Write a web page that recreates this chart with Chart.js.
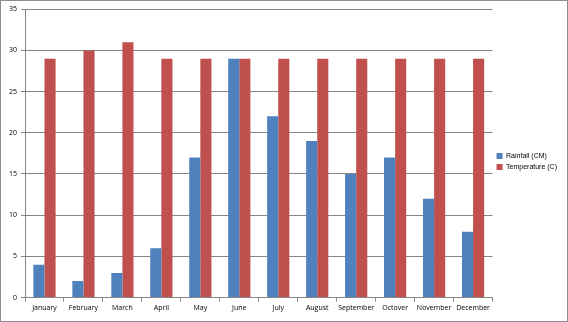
<!DOCTYPE html>
<html>
<head>
<meta charset="utf-8">
<script src="https://cdn.jsdelivr.net/npm/chart.js@4"></script>
<style>
  html, body { margin: 0; padding: 0; background: #fff; }
  #wrap { width: 568px; height: 322px; box-sizing: border-box; border: 1px solid #8e8e8e; }
  canvas { display: block; }
</style>
</head>
<body>
<div id="wrap"><canvas id="graph1" width="566" height="320"></canvas></div>
<script>
const months = ['January', 'February', 'March', 'April', 'May', 'June', 'July', 'August', 'September', 'Octover', 'November', 'December'];
const rainfall = [4, 2, 3, 6, 17, 29, 22, 19, 15, 17, 12, 8];
const temperature = [29, 30, 31, 29, 29, 29, 29, 29, 29, 29, 29, 29];

const data1 = {
    labels: months,
    datasets: [{
        label: 'Rainfall (CM)',
        data: rainfall,
        backgroundColor: '#4F81BD'
    }, {
        label: 'Temperature (C)',
        data: temperature,
        backgroundColor: '#C0504D'
    }]
};

const config = {
    type: 'bar',
    data: data1,
    options: {
        responsive: false,
        animation: false,
        layout: { padding: { left: 4, right: 0, top: 8, bottom: 7 } },
        datasets: { bar: { categoryPercentage: 0.57, barPercentage: 1 } },
        plugins: {
            tooltip: { enabled: false },
            legend: {
                position: 'right',
                labels: {
                    boxWidth: 6,
                    boxHeight: 6,
                    padding: 4,
                    color: '#000',
                    font: { family: 'Liberation Sans', size: 7 }
                }
            }
        },
        scales: {
            x: {
                grid: { display: true, drawOnChartArea: false, tickLength: 4, color: '#868686' },
                border: { color: '#868686' },
                ticks: { color: '#000', font: { family: 'Open Sans', size: 7 }, maxRotation: 0, autoSkip: false, padding: 2 }
            },
            y: {
                min: 0,
                max: 35,
                ticks: { stepSize: 5, color: '#000', font: { family: 'Open Sans', size: 7 }, padding: 4 },
                grid: { color: '#868686', tickLength: 4 },
                border: { color: '#868686' }
            }
        }
    }
};

const ctx = document.getElementById('graph1').getContext('2d');
new Chart(ctx, config);
</script>
</body>
</html>
